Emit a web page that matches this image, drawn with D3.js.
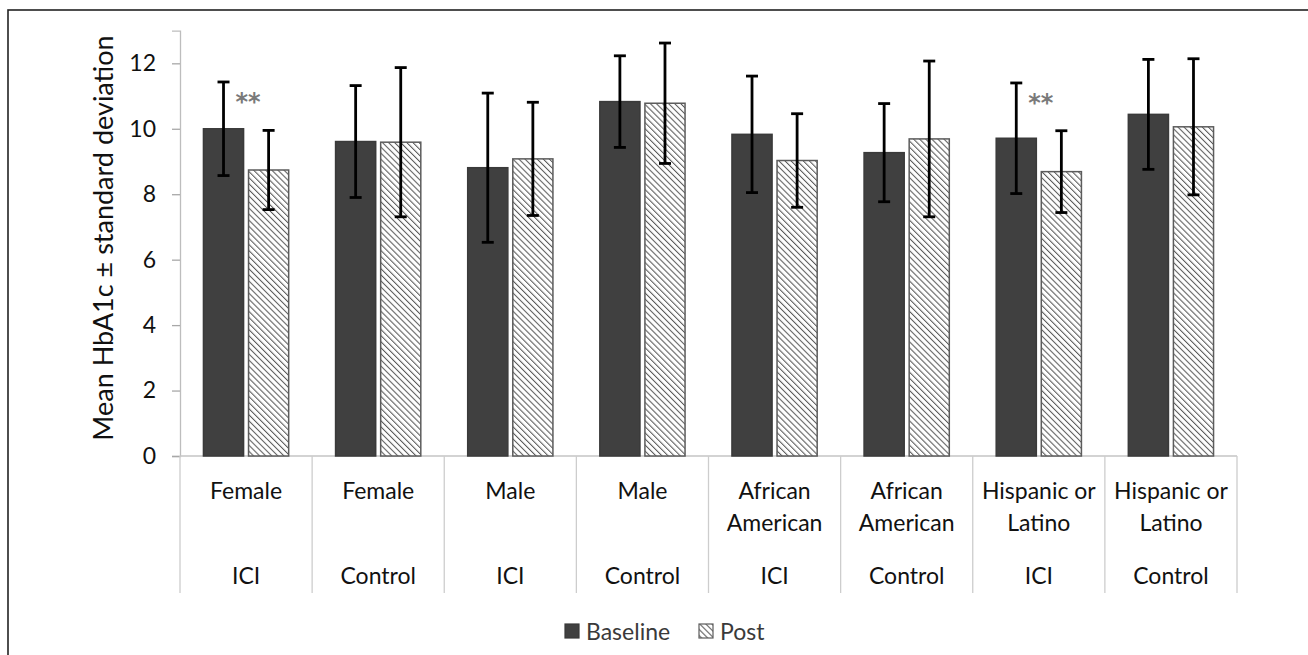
<!DOCTYPE html>
<html>
<head>
<meta charset="utf-8">
<script src="https://cdn.jsdelivr.net/npm/d3@7"></script>
<style>
  body { margin: 0; background: #fff; }
  svg { display: block; font-family: Lato, "Noto Sans", sans-serif; }
</style>
</head>
<body>
<svg id="chart" width="1308" height="655"></svg>
<script>
// Data
var subgroupLines = [["Female"], ["Female"], ["Male"], ["Male"],
                     ["African", "American"], ["African", "American"],
                     ["Hispanic or", "Latino"], ["Hispanic or", "Latino"]];
var arms = ["ICI", "Control", "ICI", "Control", "ICI", "Control", "ICI", "Control"];
var series = ["Baseline", "Post"];
var baselineMean = [10.0, 9.61, 8.81, 10.83, 9.83, 9.27, 9.71, 10.44];
var baselineSD   = [1.43, 1.71, 2.28, 1.40, 1.78, 1.50, 1.69, 1.68];
var postMean     = [8.74, 9.59, 9.08, 10.78, 9.03, 9.69, 8.69, 10.06];
var postSD       = [1.21, 2.28, 1.73, 1.84, 1.43, 2.38, 1.25, 2.08];
var signif       = ["**", "", "", "", "", "", "**", ""];
var yTicks = [0, 2, 4, 6, 8, 10, 12];

var svg = d3.select("#chart");

// outer frame (cropped on right/bottom in the original)
svg.append("rect")
  .attr("x", 8).attr("y", 10)
  .attr("width", 1330).attr("height", 680)
  .attr("fill", "none").attr("stroke", "#222").attr("stroke-width", 1.6);

// hatch pattern for Post bars
var defs = svg.append("defs");
var pat = defs.append("pattern")
  .attr("id", "hatch")
  .attr("patternUnits", "userSpaceOnUse")
  .attr("width", 4.3).attr("height", 4.3)
  .attr("patternTransform", "rotate(-45)");
pat.append("rect").attr("width", 4.3).attr("height", 4.3).attr("fill", "#fff");
pat.append("line")
  .attr("x1", 0).attr("y1", 0).attr("x2", 0).attr("y2", 4.3)
  .attr("stroke", "#5a5a5a").attr("stroke-width", 2.1);

var plotLeft = 180, plotRight = 1237, plotBottom = 456, labelBottom = 593;

var idx = d3.range(arms.length);
var x0 = d3.scaleBand().domain(idx).range([plotLeft, plotRight]);
var x1 = d3.scaleBand().domain(series).range([0, x0.bandwidth()])
  .paddingInner(0.11).paddingOuter(0.52);
var y = d3.scaleLinear().domain([0, 13]).range([plotBottom, 30.6]);

// Y axis
var yAxis = svg.append("g")
  .attr("transform", "translate(" + plotLeft + ",0)")
  .call(d3.axisLeft(y).tickValues(yTicks).tickSize(8).tickPadding(16));
yAxis.select(".domain").attr("stroke", "#bdbdbd").attr("stroke-width", 1.3);
yAxis.selectAll(".tick line").attr("stroke", "#a8a8a8").attr("stroke-width", 1.3);
yAxis.selectAll(".tick text")
  .attr("font-size", 23).attr("fill", "#111")
  .style("font-family", "Lato, 'Noto Sans', sans-serif");

// Y axis title
svg.append("text")
  .attr("transform", "translate(113," + 238 + ") rotate(-90)")
  .attr("text-anchor", "middle")
  .attr("font-size", 27)
  .attr("fill", "#111")
  .text("Mean HbA1c ± standard deviation");

// X axis line and category separators
svg.append("line")
  .attr("x1", plotLeft).attr("x2", plotRight)
  .attr("y1", plotBottom).attr("y2", plotBottom)
  .attr("stroke", "#c4c4c4").attr("stroke-width", 1.3);

svg.append("g").selectAll("line")
  .data(idx.concat([arms.length]))
  .enter().append("line")
  .attr("x1", function(d) { return d < arms.length ? x0(d) : plotRight; })
  .attr("x2", function(d) { return d < arms.length ? x0(d) : plotRight; })
  .attr("y1", plotBottom).attr("y2", labelBottom)
  .attr("stroke", "#cdcdcd").attr("stroke-width", 1.3);

// bars
var rows = idx.map(function(i) {
  return [
    {i: i, key: "Baseline", mean: baselineMean[i], sd: baselineSD[i]},
    {i: i, key: "Post", mean: postMean[i], sd: postSD[i]}
  ];
});

var group = svg.append("g").selectAll("g")
  .data(rows)
  .enter().append("g")
  .attr("transform", function(d, i) { return "translate(" + x0(i) + ",0)"; });

group.selectAll("rect")
  .data(function(d) { return d; })
  .enter().append("rect")
  .attr("x", function(d) { return x1(d.key); })
  .attr("y", function(d) { return y(d.mean); })
  .attr("width", x1.bandwidth())
  .attr("height", function(d) { return y(0) - y(d.mean); })
  .attr("fill", function(d) { return d.key == "Baseline" ? "#404040" : "url(#hatch)"; })
  .attr("stroke", function(d) { return d.key == "Baseline" ? "#3a3a3a" : "#5c5c5c"; })
  .attr("stroke-width", 1.5);

// error bars
var capW = 12;
var err = group.selectAll("g.err")
  .data(function(d) { return d; })
  .enter().append("g")
  .attr("class", "err")
  .attr("stroke", "#000")
  .attr("stroke-width", 2.8);

err.append("line")
  .attr("x1", function(d) { return x1(d.key) + x1.bandwidth() / 2; })
  .attr("x2", function(d) { return x1(d.key) + x1.bandwidth() / 2; })
  .attr("y1", function(d) { return y(d.mean + d.sd); })
  .attr("y2", function(d) { return y(d.mean - d.sd); });
err.append("line")
  .attr("x1", function(d) { return x1(d.key) + x1.bandwidth() / 2 - capW / 2; })
  .attr("x2", function(d) { return x1(d.key) + x1.bandwidth() / 2 + capW / 2; })
  .attr("y1", function(d) { return y(d.mean + d.sd); })
  .attr("y2", function(d) { return y(d.mean + d.sd); });
err.append("line")
  .attr("x1", function(d) { return x1(d.key) + x1.bandwidth() / 2 - capW / 2; })
  .attr("x2", function(d) { return x1(d.key) + x1.bandwidth() / 2 + capW / 2; })
  .attr("y1", function(d) { return y(d.mean - d.sd); })
  .attr("y2", function(d) { return y(d.mean - d.sd); });

// significance asterisks
svg.append("g").selectAll("text")
  .data(idx.filter(function(i) { return signif[i] != ""; }))
  .enter().append("text")
  .attr("x", function(i) { return x0(i) + x0.bandwidth() / 2 + 2; })
  .attr("y", function(i) { return y(baselineMean[i] + baselineSD[i]) + 28; })
  .attr("text-anchor", "middle")
  .attr("font-size", 24)
  .attr("font-weight", "bold")
  .attr("fill", "#7a7a7a")
  .style("font-family", "'DejaVu Sans', sans-serif")
  .text(function(i) { return signif[i]; });

// category labels
var labels = svg.append("g").selectAll("g")
  .data(idx)
  .enter().append("g")
  .attr("transform", function(i) { return "translate(" + (x0(i) + x0.bandwidth() / 2) + ",0)"; });

labels.each(function(i) {
  var g = d3.select(this);
  subgroupLines[i].forEach(function(line, k) {
    g.append("text")
      .attr("y", 499 + k * 31.5)
      .attr("text-anchor", "middle")
      .attr("font-size", 23)
      .attr("fill", "#111")
      .text(line);
  });
  g.append("text")
    .attr("y", 584)
    .attr("text-anchor", "middle")
    .attr("font-size", 23)
    .attr("fill", "#111")
    .text(arms[i]);
});

// legend
var legendX = [565, 699];
var legend = svg.append("g").selectAll("g")
  .data(series)
  .enter().append("g")
  .attr("transform", function(d, i) { return "translate(" + legendX[i] + ",624)"; });

legend.append("rect")
  .attr("width", 14).attr("height", 14)
  .attr("fill", function(d) { return d == "Baseline" ? "#404040" : "url(#hatch)"; })
  .attr("stroke", function(d) { return d == "Baseline" ? "#3a3a3a" : "#5c5c5c"; })
  .attr("stroke-width", 1.2);

legend.append("text")
  .attr("x", 21).attr("y", 16)
  .attr("font-size", 23)
  .attr("fill", "#3a3a3a")
  .text(function(d) { return d; });
</script>
</body>
</html>
